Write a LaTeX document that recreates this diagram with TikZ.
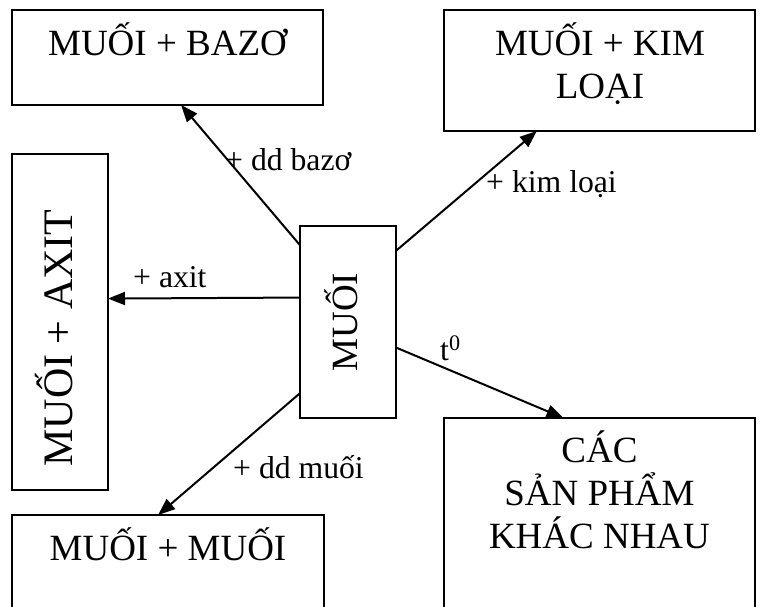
\documentclass[tikz,border=0pt]{standalone}
\usepackage{fontspec}
\setmainfont{Liberation Serif}
\usetikzlibrary{arrows.meta}
\begin{document}
\begin{tikzpicture}[x=1pt,y=-1pt,
  box/.style={draw, line width=2.2pt, inner sep=0pt, outer sep=0pt},
  boxtext/.style={font=\fontsize{37}{43}\selectfont, inner sep=0pt, align=center},
  bigtext/.style={font=\fontsize{42}{48}\selectfont, inner sep=0pt},
  edgelabel/.style={font=\fontsize{31.7}{36}\selectfont, inner sep=0pt},
  link/.style={line width=2pt, -{Triangle[length=17pt,width=13pt]}}]
\useasboundingbox (0,0) rectangle (766,606);
\fill[white] (0,0) rectangle (766,606);
\clip (0,0) rectangle (766,606);

% boxes
\node[box, minimum width=311pt, minimum height=95pt]  (bazo) at (167.5,57.5) {};
\node[box, minimum width=311pt, minimum height=121pt] (kim)  at (599.5,70.5) {};
\node[box, minimum width=96pt,  minimum height=336pt] (axit) at (60,322) {};
\node[box, minimum width=96pt,  minimum height=192pt] (muoi) at (348,322) {};
\node[box, minimum width=312pt, minimum height=125pt] (mm)   at (168,577.5) {};
\node[box, minimum width=311pt, minimum height=222pt] (cac)  at (599.5,529) {};

% box texts (multi-line nodes are placed by the baseline of their last line)
\node[boxtext, anchor=base] (tbazo) at (167.5,55) {MUỐI + BAZƠ};
\node[boxtext, anchor=base] (tkim)  at (600,98) {MUỐI + KIM\\LOẠI};
\node[bigtext, anchor=base, rotate=90] (taxit) at (72,338) {MUỐI + AXIT};
\node[boxtext, anchor=base, rotate=90] (tmuoi) at (357,322) {MUỐI};
\node[boxtext, anchor=base] (tmm)   at (168,560) {MUỐI + MUỐI};
\node[boxtext, anchor=base] (tcac)  at (599.5,548) {CÁC\\SẢN PHẨM\\KHÁC NHAU};

% connectors
\draw[link] (muoi.122.97) -- (bazo.286.97);
\draw[link] (muoi.56.31)  -- (kim.224.07);
\draw[link] (muoi.153.43) -- (axit.26.57);
\draw[link] (muoi.236.31) -- (mm.99.98);
\draw[link] (muoi.332.49) -- (cac.108.67);

% connector labels
\node[edgelabel, anchor=base west] (lbazo) at (225,170) {+ dd bazơ};
\node[edgelabel, anchor=base west] (lkim)  at (486,192) {+ kim loại};
\node[edgelabel, anchor=base west] (laxit) at (133,287) {+ axit};
\node[edgelabel, anchor=base west] (lmm)   at (233,478) {+ dd muối};
\node[edgelabel, anchor=base west] (lt)    at (440,360) {t\textsuperscript{0}};
\end{tikzpicture}
\end{document}
